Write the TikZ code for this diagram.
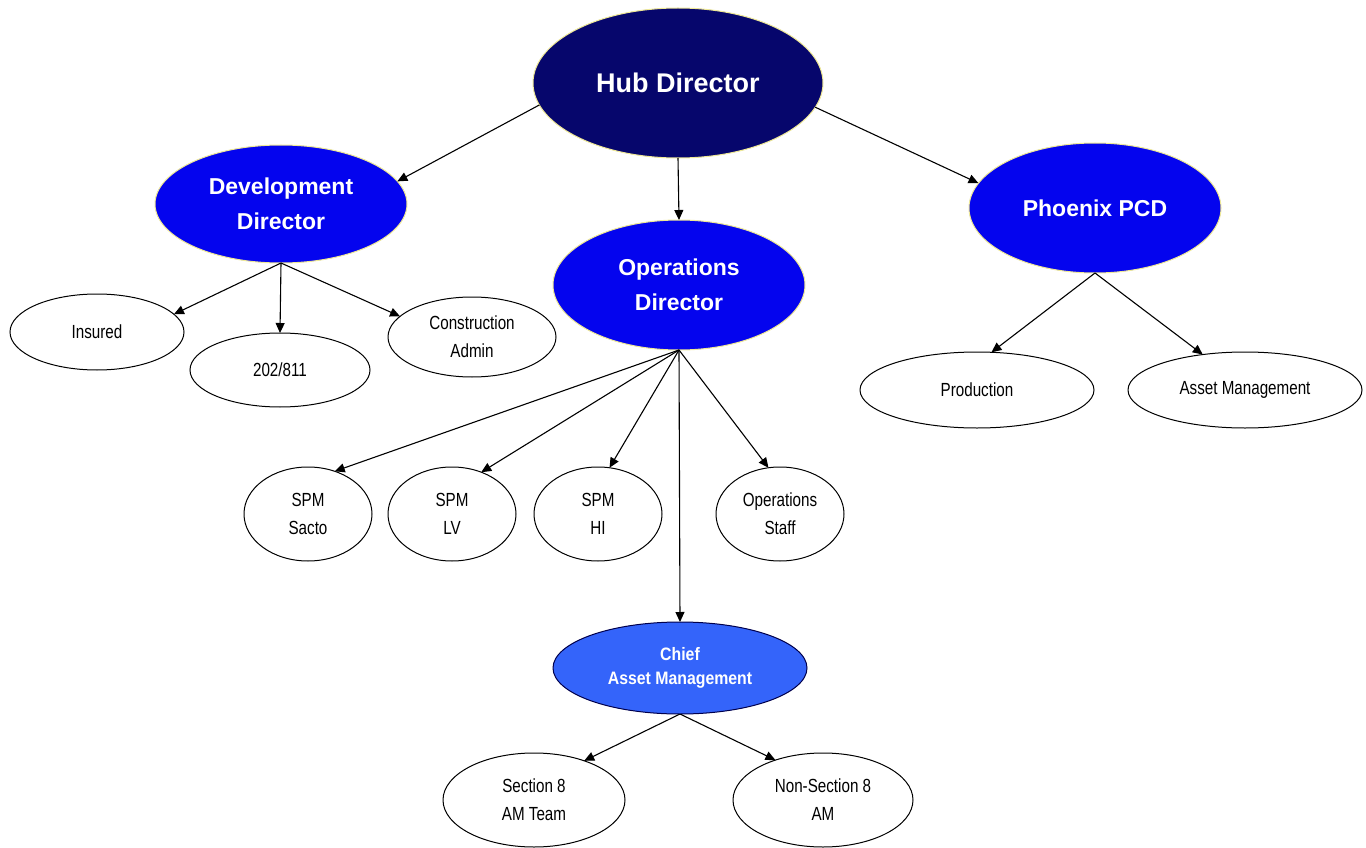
\documentclass[tikz,border=0pt]{standalone}
\usepackage{fontspec}
\setmainfont{Liberation Sans}
\newfontfamily\narrowsans[FakeStretch=0.8]{Liberation Sans}
\newfontfamily\chiefsans[FakeStretch=0.88]{Liberation Sans}
\usepackage{tikz}
\usetikzlibrary{shapes.geometric}
\usetikzlibrary{arrows.meta}

\definecolor{hubnavy}{RGB}{6,6,108}
\definecolor{dirblue}{RGB}{4,4,238}
\definecolor{chiefblue}{RGB}{52,100,250}
\definecolor{glow}{RGB}{238,232,150}

\begin{document}
\begin{tikzpicture}[x=1pt,y=-1pt,
  oval/.style={ellipse,draw,line width=1pt,inner sep=0pt,outer sep=0pt,align=center},
  boss/.style={oval,fill=dirblue,draw=glow,text=white,
    font=\bfseries\fontsize{23}{35}\selectfont},
  staffer/.style={oval,fill=white,draw=black,
    font=\narrowsans\fontsize{19}{28}\selectfont},
  arr/.style={-{Triangle[length=10pt,width=9pt]},line width=1.1pt}]
  \useasboundingbox (0,0) rectangle (1366,848);

  % Directors
  \node[boss,fill=hubnavy,minimum width=290,minimum height=150,
    font=\bfseries\fontsize{27}{32}\selectfont] (hub) at (678,83) {Hub Director};
  \node[boss,minimum width=252,minimum height=118] (dev) at (281,204) {Development\\Director};
  \node[boss,minimum width=252,minimum height=130] (ops) at (679,285) {Operations\\Director};
  \node[boss,minimum width=252,minimum height=130] (phx) at (1095,208) {Phoenix PCD};

  % Development staff
  \node[staffer,minimum width=174,minimum height=76] (ins) at (97,332) {Insured};
  \node[staffer,minimum width=180,minimum height=74] (sec202) at (280,370) {202/811};
  \node[staffer,minimum width=168,minimum height=80] (con) at (472,337) {Construction\\Admin};

  % Operations staff
  \node[staffer,minimum width=128,minimum height=94] (sacto) at (308,514) {SPM\\Sacto};
  \node[staffer,minimum width=128,minimum height=94] (lv) at (452,514) {SPM\\LV};
  \node[staffer,minimum width=128,minimum height=94] (hi) at (598,514) {SPM\\HI};
  \node[staffer,minimum width=128,minimum height=94] (staff) at (780,514) {Operations\\Staff};
  \node[boss,fill=chiefblue,draw=black!70!blue,minimum width=254,minimum height=92,
    font=\chiefsans\bfseries\fontsize{18}{24}\selectfont] (chief) at (680,668) {Chief\\Asset Management};
  \node[staffer,minimum width=182,minimum height=94] (seceight) at (534,800) {Section 8\\AM Team};
  \node[staffer,minimum width=180,minimum height=94] (nonsec) at (823,800) {Non-Section 8\\AM};

  % Phoenix staff
  \node[staffer,minimum width=234,minimum height=76] (prod) at (977,390) {Production};
  \node[staffer,minimum width=234,minimum height=76] (asset) at (1245,390) {Asset Management};

  % Reporting lines
  \draw[arr] (hub.189) -- (dev.11);
  \draw[arr] (hub.south) -- (ops.north);
  \draw[arr] (hub.350) -- (phx.168);
  \draw[arr] (dev.south) -- (ins.13);
  \draw[arr] (dev.south) -- (sec202.north);
  \draw[arr] (dev.south) -- (con.164);
  \foreach \kid/\ang in {sacto/58,lv/55,hi/76,staff/104}
    \draw[arr] (ops.south) -- (\kid.\ang);
  \draw[arr] (ops.south) -- (chief.north);
  \draw[arr] (chief.south) -- (seceight.38);
  \draw[arr] (chief.south) -- (nonsec.140);
  \draw[arr] (phx.south) -- (prod.69);
  \draw[arr] (phx.south) -- (asset.140);
\end{tikzpicture}
\end{document}
